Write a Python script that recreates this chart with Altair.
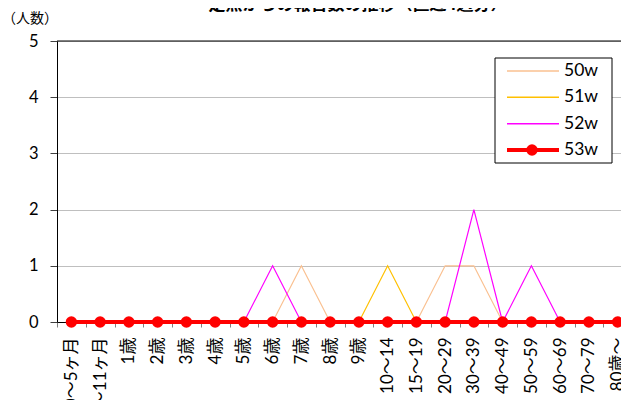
import altair as alt
import pandas as pd

categories = ["0～5ヶ月", "6～11ヶ月", "1歳", "2歳", "3歳", "4歳", "5歳", "6歳", "7歳", "8歳", "9歳",
              "10～14", "15～19", "20～29", "30～39", "40～49", "50～59", "60～69", "70～79", "80歳～"]
w50 = [0, 0, 0, 0, 0, 0, 0, 0, 1, 0, 0, 0, 0, 1, 1, 0, 0, 0, 0, 0]
w51 = [0, 0, 0, 0, 0, 0, 0, 0, 0, 0, 0, 1, 0, 0, 0, 0, 0, 0, 0, 0]
w52 = [0, 0, 0, 0, 0, 0, 0, 1, 0, 0, 0, 0, 0, 0, 2, 0, 1, 0, 0, 0]
w53 = [0, 0, 0, 0, 0, 0, 0, 0, 0, 0, 0, 0, 0, 0, 0, 0, 0, 0, 0, 0]
series_names = ["50w", "51w", "52w", "53w"]
series_colors = ["#FAC090", "#FFC000", "#FF00FF", "#FF0000"]
y_ticks = [0, 1, 2, 3, 4, 5]
title_text = "定点からの報告数の推移（直近4週分）"
y_unit = "（人数）"

rows = []
for name, vals in zip(series_names, [w50, w51, w52, w53]):
    for c, v in zip(categories, vals):
        rows.append({"series": name, "age": c, "value": v})
df = pd.DataFrame(rows)
leg_df = pd.DataFrame({"series": series_names, "row": list(range(len(series_names)))})

FONT = "Lato, Noto Sans CJK JP, sans-serif"
JP = "Noto Sans CJK JP"

color = alt.Color("series:N", scale=alt.Scale(domain=series_names, range=series_colors), legend=None)
yscale = alt.Scale(domain=[0, 5], nice=False, zero=True)

x_enc = alt.X("age:N", sort=categories, title=None,
              scale=alt.Scale(type="band", paddingInner=0, paddingOuter=0),
              axis=alt.Axis(labelAngle=-90, tickBand="extent", tickSize=5, labelPadding=10,
                            labelFontSize=17, labelOverlap=False, domainColor="black",
                            tickColor="#808080", labelColor="black", labelFont=FONT, grid=False))
y_axis = alt.Axis(values=y_ticks, title=None, grid=True, gridColor="#BFBFBF", tickSize=7,
                  labelPadding=12, labelFontSize=16.5, domainColor="black", tickColor="#404040",
                  labelColor="black", labelFont=FONT, format="d")

base = alt.Chart(df)

thin = base.transform_filter(alt.datum.series != "53w").mark_line(strokeWidth=1.2).encode(
    x=x_enc,
    y=alt.Y("value:Q", scale=yscale, axis=y_axis),
    color=color,
)
top_rule = alt.Chart(pd.DataFrame({"v": [5]})).mark_rule(color="black", strokeWidth=1).encode(
    y=alt.Y("v:Q", scale=yscale, axis=None)
)
red_line = base.transform_filter(alt.datum.series == "53w").mark_line(strokeWidth=4).encode(
    x=alt.X("age:N", sort=categories), y=alt.Y("value:Q", scale=yscale, axis=None), color=color)
red_pts = base.transform_filter(alt.datum.series == "53w").mark_point(filled=True, size=130, opacity=1).encode(
    x=alt.X("age:N", sort=categories), y=alt.Y("value:Q", scale=yscale, axis=None), color=color)

leg_y = alt.Y("row:Q", scale=alt.Scale(domain=[0, 3], range=[30, 109]), axis=None)
leg_box = alt.Chart(pd.DataFrame({"a": [0]})).mark_rect(fill="white", stroke="black", strokeWidth=1).encode(
    x=alt.value(438), x2=alt.value(555), y=alt.value(17), y2=alt.value(122))
leg_thin = alt.Chart(leg_df).transform_filter(alt.datum.series != "53w").mark_rule(strokeWidth=1.5).encode(
    x=alt.value(450), x2=alt.value(502), y=leg_y, color=color)
leg_thick = alt.Chart(leg_df).transform_filter(alt.datum.series == "53w").mark_rule(strokeWidth=4).encode(
    x=alt.value(450), x2=alt.value(502), y=leg_y, color=color)
leg_pt = alt.Chart(leg_df).transform_filter(alt.datum.series == "53w").mark_point(filled=True, size=130, opacity=1).encode(
    x=alt.value(475), y=leg_y, color=color)
leg_txt = alt.Chart(leg_df).mark_text(align="left", baseline="middle", fontSize=17.5, font=FONT, color="black").encode(
    x=alt.value(507), y=leg_y, text="series:N")

title_mark = alt.Chart(pd.DataFrame({"t": [title_text]})).mark_text(
    align="center", baseline="bottom", fontSize=17, fontWeight="bold", font=JP, color="black").encode(
    x=alt.value(301), y=alt.value(-27), text="t:N")
unit_mark = alt.Chart(pd.DataFrame({"t": [y_unit]})).mark_text(
    align="center", baseline="middle", fontSize=14, font=JP, color="black").encode(
    x=alt.value(-27), y=alt.value(-22), text="t:N")

chart = alt.layer(
    thin, top_rule, red_line, red_pts,
    leg_box, leg_thin, leg_thick, leg_pt, leg_txt,
    title_mark, unit_mark,
).resolve_scale(y="independent").properties(
    width=575, height=281,
    autosize=alt.AutoSizeParams(type="none"),
    padding={"left": 49, "top": 33, "right": -11, "bottom": 78},
).configure_view(stroke=None).configure(background="white")

chart.save("out.html", embed_options={"renderer": "svg", "actions": False})
